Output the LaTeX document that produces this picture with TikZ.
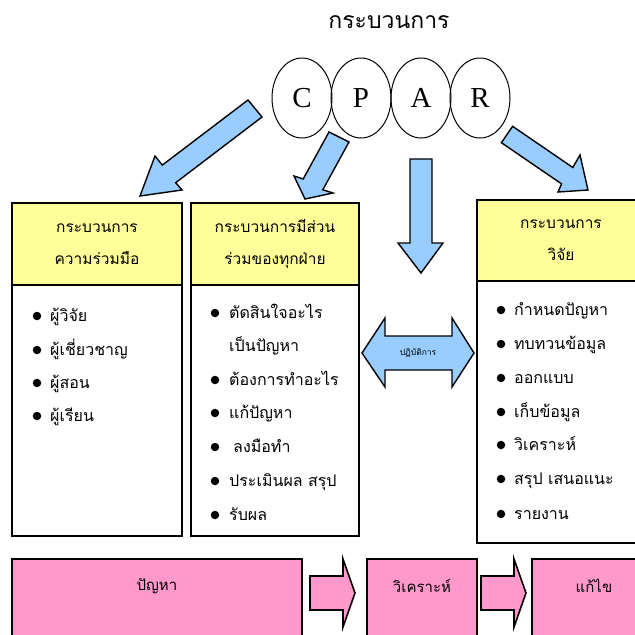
\documentclass[tikz,border=0pt]{standalone}
\usepackage{fontspec}
\setmainfont{Liberation Serif}
\newfontfamily\thai[Script=Thai]{Loma}
\usetikzlibrary{shapes.geometric}
\definecolor{arrblue}{HTML}{99CCFF}
\definecolor{hdryellow}{HTML}{FFFF99}
\definecolor{boxpink}{HTML}{FF99CC}
\tikzset{
  blockarrow/.style={draw=black, fill=arrblue, line width=1.4pt, line join=miter},
  pinkarrow/.style={draw=black, fill=boxpink, line width=1.6pt, line join=miter},
  ell/.style={ellipse, draw=black, line width=1pt, minimum width=60pt, minimum height=80pt, inner sep=0pt, font=\fontsize{29}{30}\selectfont},
  hdr/.style={draw=black, fill=hdryellow, line width=1.8pt, inner sep=0pt, align=center, font=\thai\fontsize{15.5}{32}\selectfont},
  bodybox/.style={draw=black, fill=white, line width=1.8pt, inner sep=0pt},
  pinkbox/.style={draw=black, fill=boxpink, line width=1.8pt, inner sep=0pt},
  itemtxt/.style={anchor=base west, inner sep=0pt, font=\thai\fontsize{16}{18}\selectfont},
  boxlabel/.style={inner sep=0pt, font=\thai\fontsize{15}{18}\selectfont},
  bul/.style={circle, fill=black, inner sep=0pt, minimum size=8.5pt}
}
\begin{document}
\begin{tikzpicture}[x=1pt,y=-1pt]
\useasboundingbox (0,0) rectangle (635,635);
\fill[white] (0,0) rectangle (635,635);
\clip (0,0) rectangle (635,635);

% title
\node[font=\thai\fontsize{23}{26}\selectfont, inner sep=0pt] (title) at (389,22) {กระบวนการ};

% CPAR ellipses
\node[ell] (C) at (302,98) {C};
\node[ell] (P) at (361,98) {P};
\node[ell] (A) at (421,98) {A};
\node[ell] (R) at (480,98) {R};

% block arrows
\draw[blockarrow] (248,100) -- (262,117) -- (175.7,182.7) -- (182,190) -- (140,196) -- (155,156) -- (162.3,165.1) -- cycle;
\draw[blockarrow] (329,132) -- (349,142) -- (322.8,189.8) -- (333,193) -- (305,199) -- (294,176) -- (303.2,179) -- cycle;
\draw[blockarrow] (410,159) -- (432,159) -- (432,243) -- (443,243) -- (421,273) -- (398,243) -- (410,243) -- cycle;
\draw[blockarrow] (512.6,126.3) -- (501.4,142.7) -- (561.6,183.9) -- (558,192) -- (588,190) -- (580,155) -- (572.8,167.5) -- cycle;

% box 1
\node[bodybox, minimum width=170pt, minimum height=252pt] (b1) at (97,410) {};
\node[hdr, minimum width=170pt, minimum height=82pt] (h1) at (97,244) {กระบวนการ\\ความร่วมมือ};
% box 2
\node[bodybox, minimum width=168pt, minimum height=252pt] (b2) at (275,410) {};
\node[hdr, minimum width=168pt, minimum height=82pt] (h2) at (275,244) {กระบวนการมีส่วน\\ร่วมของทุกฝ่าย};
% box 3
\node[bodybox, minimum width=168pt, minimum height=262pt] (b3) at (561,412) {};
\node[hdr, minimum width=168pt, minimum height=81pt] (h3) at (561,240.5) {กระบวนการ\\วิจัย};

% box 1 items
\node[bul] (u11) at (37,316) {}; \node[itemtxt] (t11) at (50,321) {ผู้วิจัย};
\node[bul] (u12) at (37,350) {}; \node[itemtxt] (t12) at (50,355) {ผู้เชี่ยวชาญ};
\node[bul] (u13) at (37,383) {}; \node[itemtxt] (t13) at (50,388) {ผู้สอน};
\node[bul] (u14) at (37,416) {}; \node[itemtxt] (t14) at (50,421) {ผู้เรียน};

% box 2 items
\node[bul] (u21) at (215,313) {}; \node[itemtxt] (t21) at (229,318) {ตัดสินใจอะไร};
\node[itemtxt] (t21b) at (229,351) {เป็นปัญหา};
\node[bul] (u22) at (215,380) {}; \node[itemtxt] (t22) at (229,385) {ต้องการทำอะไร};
\node[bul] (u23) at (215,413) {}; \node[itemtxt] (t23) at (229,418) {แก้ปัญหา};
\node[bul] (u24) at (215,447) {}; \node[itemtxt] (t24) at (233,452) {ลงมือทำ};
\node[bul] (u25) at (215,481) {}; \node[itemtxt] (t25) at (229,486) {ประเมินผล สรุป};
\node[bul] (u26) at (215,515) {}; \node[itemtxt] (t26) at (229,520) {รับผล};

% box 3 items
\node[bul] (u31) at (501,310) {}; \node[itemtxt] (t31) at (514,315) {กำหนดปัญหา};
\node[bul] (u32) at (501,344) {}; \node[itemtxt] (t32) at (514,349) {ทบทวนข้อมูล};
\node[bul] (u33) at (501,378) {}; \node[itemtxt] (t33) at (514,383) {ออกแบบ};
\node[bul] (u34) at (501,412) {}; \node[itemtxt] (t34) at (514,417) {เก็บข้อมูล};
\node[bul] (u35) at (501,445) {}; \node[itemtxt] (t35) at (514,450) {วิเคราะห์};
\node[bul] (u36) at (501,479) {}; \node[itemtxt] (t36) at (514,484) {สรุป เสนอแนะ};
\node[bul] (u37) at (501,514) {}; \node[itemtxt] (t37) at (514,519) {รายงาน};

% double arrow
\draw[blockarrow] (362,353) -- (385,318) -- (385,336) -- (452,336) -- (452,318) -- (474,353) -- (452,387) -- (452,370) -- (385,370) -- (385,387) -- cycle;
\node[font=\thai\fontsize{8.5}{10}\selectfont, inner sep=0pt] (dbl) at (418,353) {ปฏิบัติการ};

% bottom row
\draw[pinkbox] (12,559) rectangle (302,650);
\node[boxlabel] (p1) at (157,586) {ปัญหา};
\draw[pinkarrow] (310,576) -- (343,576) -- (343,559) -- (355,593) -- (343,627) -- (343,610) -- (310,610) -- cycle;
\draw[pinkbox] (367,559) rectangle (477,650);
\node[boxlabel] (p2) at (422,586) {วิเคราะห์};
\draw[pinkarrow] (481,576) -- (514,576) -- (514,559) -- (526,593) -- (514,627) -- (514,610) -- (481,610) -- cycle;
\draw[pinkbox] (532,559) rectangle (660,650);
\node[boxlabel] (p3) at (594,586) {แก้ไข};
\end{tikzpicture}
\end{document}
